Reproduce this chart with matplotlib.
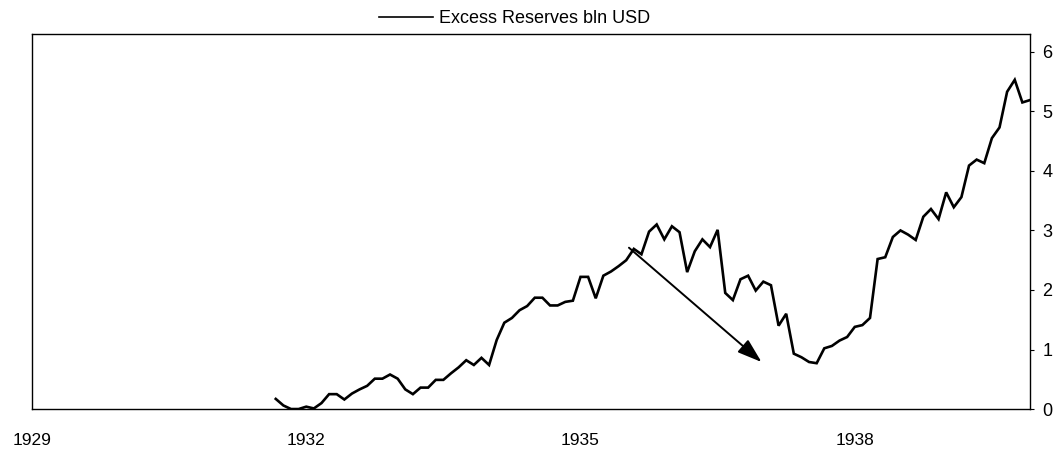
import numpy as np
import matplotlib.pyplot as plt

plt.rcParams['font.family'] = ['Liberation Sans', 'DejaVu Sans']

# monthly excess reserves, bln USD, starting Sep 1931
start_year = 1931
start_month = 9
reserves = [0.17, 0.06, 0.00, 0.00, 0.04, 0.01, 0.10, 0.25, 0.25, 0.16,
            0.26, 0.33, 0.39, 0.51, 0.51, 0.58, 0.51, 0.33, 0.25, 0.36,
            0.36, 0.49, 0.49, 0.60, 0.70, 0.82, 0.74, 0.86, 0.74, 1.16,
            1.45, 1.53, 1.66, 1.73, 1.87, 1.87, 1.74, 1.74, 1.80, 1.82,
            2.22, 2.22, 1.86, 2.24, 2.31, 2.40, 2.50, 2.69, 2.60, 2.98,
            3.10, 2.85, 3.07, 2.97, 2.30, 2.65, 2.85, 2.72, 3.01, 1.95,
            1.83, 2.18, 2.24, 1.99, 2.14, 2.08, 1.40, 1.60, 0.93, 0.87,
            0.79, 0.77, 1.02, 1.06, 1.15, 1.21, 1.38, 1.41, 1.53, 2.52,
            2.55, 2.89, 3.00, 2.93, 2.84, 3.23, 3.36, 3.19, 3.64, 3.39,
            3.56, 4.09, 4.19, 4.13, 4.55, 4.73, 5.33, 5.53, 5.15, 5.19]

year_ticks = [1929, 1932, 1935, 1938]
y_ticks = [0, 1, 2, 3, 4, 5, 6]

# arrow drawn on the chart (data coords)
arrow_start = (1935.53, 2.71)
arrow_end = (1936.98, 0.79)

months = np.arange(len(reserves))
x = start_year + (start_month - 1) / 12 + months / 12

fig = plt.figure(figsize=(10.59, 4.49), dpi=100)
ax = fig.add_axes([0.0302, 0.089, 0.9424, 0.8353])

line, = ax.plot(x, reserves, color='black', lw=1.9, solid_joinstyle='miter')

ax.annotate('', xy=arrow_end, xytext=arrow_start,
            arrowprops=dict(arrowstyle='-|>,head_length=0.6,head_width=0.2',
                            mutation_scale=25, lw=1.4,
                            color='black', shrinkA=0, shrinkB=0))

ax.set_xlim(1929, x[-1])
ax.set_ylim(0, 6.3)
ax.set_xticks(year_ticks)
ax.set_xticklabels([str(t) for t in year_ticks])
ax.set_yticks(y_ticks)
ax.yaxis.tick_right()
ax.tick_params(axis='x', length=0, pad=17, labelsize=12.5)
ax.tick_params(axis='y', direction='out', length=3, width=0.8, pad=6, labelsize=13)
for s in ax.spines.values():
    s.set_linewidth(1.0)
    s.set_color('black')

fig.legend([line], ['Excess Reserves bln USD'], loc='center',
           bbox_to_anchor=(0.486, 0.958), frameon=False, fontsize=13,
           handlelength=3.0, handletextpad=0.3)
line_leg = fig.legends[0].get_lines()[0]
line_leg.set_linewidth(1.2)

fig.savefig('out.png', dpi=100)
